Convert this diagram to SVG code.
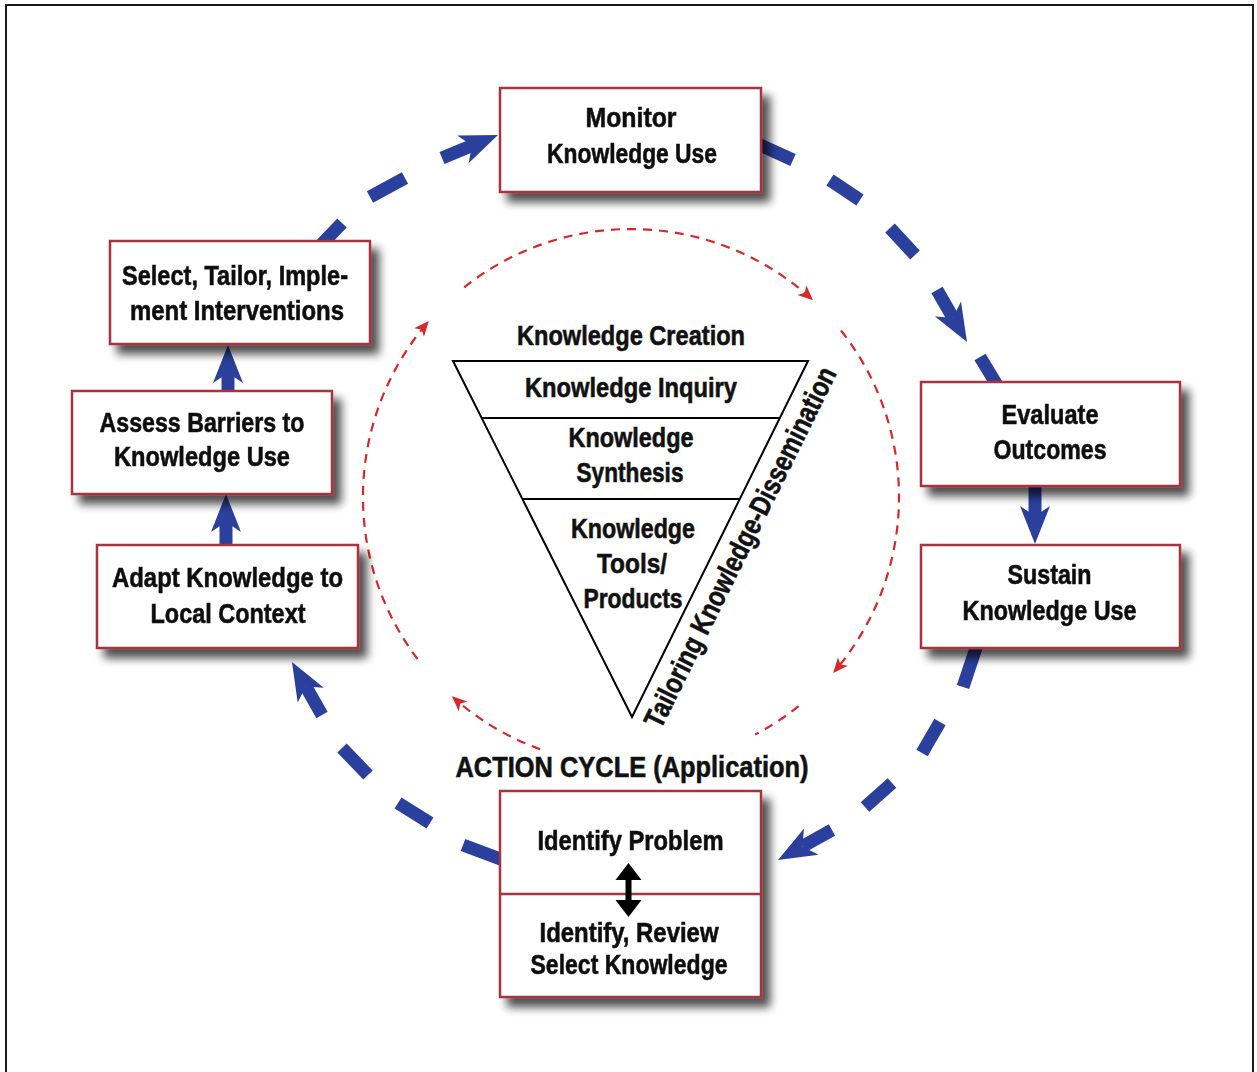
<svg xmlns="http://www.w3.org/2000/svg" width="1257" height="1072" viewBox="0 0 1257 1072">
  <defs>
    <filter id="shadow" x="-10%" y="-15%" width="130%" height="150%">
      <feGaussianBlur in="SourceAlpha" stdDeviation="5"/>
      <feOffset dx="8" dy="9" result="blur"/>
      <feComponentTransfer><feFuncA type="linear" slope="0.7"/></feComponentTransfer>
      <feMerge><feMergeNode/><feMergeNode in="SourceGraphic"/></feMerge>
    </filter>
    <!-- blue arrowhead: reference point sits at the notch, tip 28px ahead -->
    <marker id="blueHead" markerUnits="userSpaceOnUse" orient="auto" overflow="visible" refX="0" refY="0" markerWidth="1" markerHeight="1">
      <path d="M28,0 L-10,-15 L0,0 L-10,15 Z" fill="#2b409c"/>
    </marker>
    <marker id="redHead" markerUnits="userSpaceOnUse" orient="auto" overflow="visible" refX="0" refY="0" markerWidth="1" markerHeight="1">
      <path d="M2,0 L-13,-6.5 L-9,0 L-13,6.5 Z" fill="#d8262b"/>
    </marker>
    <marker id="blackHead" markerUnits="userSpaceOnUse" orient="auto-start-reverse" overflow="visible" refX="0" refY="0" markerWidth="1" markerHeight="1">
      <path d="M15,0 L-2,-13 L-2,13 Z" fill="#000"/>
    </marker>
    <style>
      .box { fill:#fff; stroke:#a8323e; stroke-width:2.5; }
      .lbl { font-family:"Liberation Sans Narrow","Liberation Sans",Arial,sans-serif; font-weight:bold; font-size:28px; fill:#111; stroke:#111; stroke-width:0.6; text-anchor:middle; }
      .blue { stroke:#2b409c; stroke-width:13; fill:none; stroke-linecap:butt; }
      .red { stroke:#d8262b; stroke-width:2.2; fill:none; stroke-dasharray:9 7; }
      .tri { fill:#fff; stroke:#000; stroke-width:2; }
    </style>
  </defs>

  <rect x="0" y="0" width="1257" height="1072" fill="#fff"/>
  <!-- outer frame -->
  <rect x="6" y="5" width="1247" height="1090" fill="none" stroke="#1a1a1a" stroke-width="2"/>

  <!-- knowledge creation funnel -->
  <g id="knowledge-creation">
    <polygon class="tri" points="453,361 808,361 632,717"/>
    <line x1="481.7" y1="418" x2="779.8" y2="418" stroke="#000" stroke-width="2"/>
    <line x1="522.4" y1="499" x2="739.8" y2="499" stroke="#000" stroke-width="2"/>
    <text class="lbl" x="631" y="345" textLength="228" lengthAdjust="spacingAndGlyphs">Knowledge Creation</text>
    <text class="lbl" x="631" y="397" textLength="212" lengthAdjust="spacingAndGlyphs">Knowledge Inquiry</text>
    <text class="lbl" x="631" y="447" textLength="125" lengthAdjust="spacingAndGlyphs">Knowledge</text>
    <text class="lbl" x="630" y="482" textLength="107" lengthAdjust="spacingAndGlyphs">Synthesis</text>
    <text class="lbl" x="633" y="538" textLength="124" lengthAdjust="spacingAndGlyphs">Knowledge</text>
    <text class="lbl" x="632" y="573" textLength="70" lengthAdjust="spacingAndGlyphs">Tools/</text>
    <text class="lbl" x="633" y="608" textLength="99" lengthAdjust="spacingAndGlyphs">Products</text>
    <text class="lbl" x="749" y="551.5" transform="rotate(-63.7 749 551.5)" style="font-size:29px" textLength="398" lengthAdjust="spacingAndGlyphs">Tailoring Knowledge-Dissemination</text>
  </g>

  <text class="lbl" x="632" y="777" style="font-size:29px" textLength="353" lengthAdjust="spacingAndGlyphs">ACTION CYCLE (Application)</text>

  <g id="connectors">
    <!-- inner red cycle, centre (631,497), r 268 -->
    <path class="red" d="M464.2,287.3 A268,268 0 0 1 811.5,298.9" marker-end="url(#redHead)"/>
    <path class="red" d="M841,330.5 A268,268 0 0 1 834.5,671.4" marker-end="url(#redHead)"/>
    <path class="red" d="M798.6,706.1 A268,268 0 0 1 755.2,734.5"/>
    <path class="red" d="M540.2,749.2 A268,268 0 0 1 453.4,697.7" marker-end="url(#redHead)"/>
    <path class="red" d="M417.5,659 A268,268 0 0 1 427.5,322.6" marker-end="url(#redHead)"/>

    <!-- Select, Tailor -> Monitor -->
    <path class="blue" d="M318,248 L342,223 M370,197 L405,178"/>
    <path class="blue" d="M442,158 L472.1,145.6" marker-end="url(#blueHead)"/>
    <!-- Monitor -> Evaluate -->
    <path class="blue" d="M758,144 L793,160 M830,180 L860,200 M890,228 L915,255 M980,357 L1000,390"/>
    <path class="blue" d="M937,290 L953,317.7" marker-end="url(#blueHead)"/>
    <!-- Evaluate -> Sustain -->
    <path class="blue" d="M1035,484 L1035,516" marker-end="url(#blueHead)"/>
    <!-- Sustain -> Identify Problem -->
    <path class="blue" d="M977,645 L963,687 M940,722 L922,753 M892,783 L865,807"/>
    <path class="blue" d="M832,830 L802.5,846.4" marker-end="url(#blueHead)"/>
    <!-- Identify -> Adapt -->
    <path class="blue" d="M503,860 L463,845 M430,823 L398,803 M368,775 L342,748"/>
    <path class="blue" d="M322,715 L305.8,686.4" marker-end="url(#blueHead)"/>
    <!-- Adapt -> Assess -> Select -->
    <path class="blue" d="M226,550 L226,522" marker-end="url(#blueHead)"/>
    <path class="blue" d="M228,394 L228,373" marker-end="url(#blueHead)"/>
  </g>

  <g id="monitor" filter="url(#shadow)">
    <rect class="box" x="500" y="88" width="261" height="104"/>
    <text class="lbl" x="631" y="126.5" textLength="91" lengthAdjust="spacingAndGlyphs">Monitor</text>
    <text class="lbl" x="632" y="162.5" textLength="170" lengthAdjust="spacingAndGlyphs">Knowledge Use</text>
  </g>

  <g id="select-tailor" filter="url(#shadow)">
    <rect class="box" x="110" y="241" width="260" height="103"/>
    <text class="lbl" x="235" y="285" textLength="226" lengthAdjust="spacingAndGlyphs">Select, Tailor, Imple-</text>
    <text class="lbl" x="237" y="320" textLength="214" lengthAdjust="spacingAndGlyphs">ment Interventions</text>
  </g>

  <g id="assess-barriers" filter="url(#shadow)">
    <rect class="box" x="72" y="391" width="260" height="103"/>
    <text class="lbl" x="202" y="431.5" textLength="205" lengthAdjust="spacingAndGlyphs">Assess Barriers to</text>
    <text class="lbl" x="202" y="465.5" textLength="176" lengthAdjust="spacingAndGlyphs">Knowledge Use</text>
  </g>

  <g id="adapt-knowledge" filter="url(#shadow)">
    <rect class="box" x="97" y="545" width="261" height="103"/>
    <text class="lbl" x="227.5" y="586.5" textLength="231" lengthAdjust="spacingAndGlyphs">Adapt Knowledge to</text>
    <text class="lbl" x="228" y="623" textLength="155" lengthAdjust="spacingAndGlyphs">Local Context</text>
  </g>

  <g id="evaluate-outcomes" filter="url(#shadow)">
    <rect class="box" x="921" y="382" width="259" height="104"/>
    <text class="lbl" x="1050" y="423.5" textLength="97" lengthAdjust="spacingAndGlyphs">Evaluate</text>
    <text class="lbl" x="1050" y="458.5" textLength="113" lengthAdjust="spacingAndGlyphs">Outcomes</text>
  </g>

  <g id="sustain-knowledge" filter="url(#shadow)">
    <rect class="box" x="921" y="545" width="259" height="103"/>
    <text class="lbl" x="1049.5" y="583.5" textLength="84" lengthAdjust="spacingAndGlyphs">Sustain</text>
    <text class="lbl" x="1049.5" y="619.5" textLength="174" lengthAdjust="spacingAndGlyphs">Knowledge Use</text>
  </g>

  <g id="identify" filter="url(#shadow)">
    <rect class="box" x="500" y="791" width="261" height="206"/>
    <line x1="500" y1="894" x2="761" y2="894" stroke="#a8323e" stroke-width="2.5"/>
    <text class="lbl" x="630.5" y="850" textLength="186" lengthAdjust="spacingAndGlyphs">Identify Problem</text>
    <text class="lbl" x="629" y="941.5" textLength="179" lengthAdjust="spacingAndGlyphs">Identify, Review</text>
    <text class="lbl" x="629" y="973.5" textLength="197" lengthAdjust="spacingAndGlyphs">Select Knowledge</text>
  </g>

  <g id="identify-link">
    <path d="M628.5,878 L628.5,902" stroke="#000" stroke-width="6" marker-start="url(#blackHead)" marker-end="url(#blackHead)"/>
  </g>
</svg>
